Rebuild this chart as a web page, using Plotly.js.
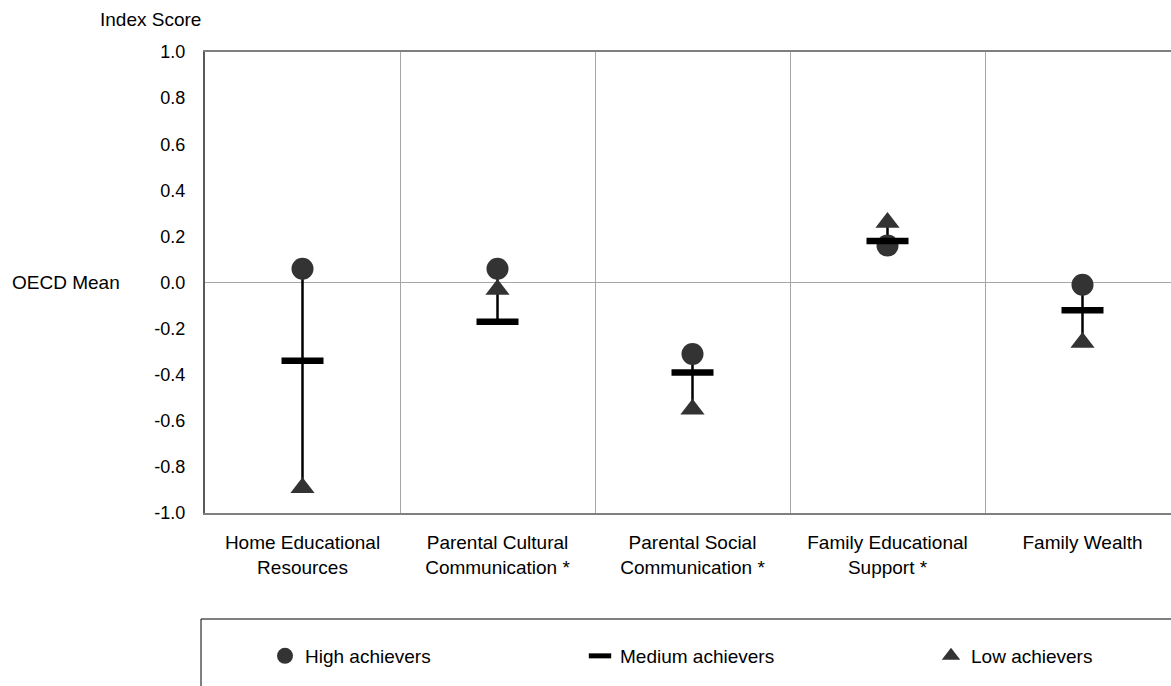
<!DOCTYPE html>
<html>
<head>
<meta charset="utf-8">
<script src="https://cdn.plot.ly/plotly-3.0.1.min.js"></script>
<style>
  html, body { margin: 0; padding: 0; background: #ffffff; overflow: hidden; }
  #chart { width: 1171px; height: 686px; }
</style>
</head>
<body>
<div id="chart"></div>
<script>
// ---- Data ----
var categories = [
  "Home Educational<br>Resources",
  "Parental Cultural<br>Communication *",
  "Parental Social<br>Communication *",
  "Family Educational<br>Support *",
  "Family Wealth"
];
var highAchievers   = [0.06, 0.06, -0.31, 0.16, -0.01];
var mediumAchievers = [-0.34, -0.17, -0.39, 0.18, -0.12];
var lowAchievers    = [-0.89, -0.03, -0.55, 0.26, -0.26];
var yTickValues = [-1.0, -0.8, -0.6, -0.4, -0.2, 0.0, 0.2, 0.4, 0.6, 0.8, 1.0];
var yTickLabels = ["-1.0", "-0.8", "-0.6", "-0.4", "-0.2", "0.0", "0.2", "0.4", "0.6", "0.8", "1.0"];
var seriesNames = ["High achievers", "Medium achievers", "Low achievers"];

// ---- Derived ----
var xIdx = categories.map(function (_, i) { return i; });
var upper = [], lower = [];
for (var i = 0; i < categories.length; i++) {
  var mx = Math.max(highAchievers[i], mediumAchievers[i], lowAchievers[i]);
  var mn = Math.min(highAchievers[i], mediumAchievers[i], lowAchievers[i]);
  upper.push(mx - mediumAchievers[i]);
  lower.push(mediumAchievers[i] - mn);
}

var FONT = "Liberation Sans, Arial, sans-serif";
var W = 1171, H = 686;
var mL = 205, mR = 0, mT = 52, mB = 173;
var plotW = W - mL - mR, plotH = H - mT - mB;
function px2x(px) { return (px - mL) / plotW; }
function py2y(py) { return (H - mB - py) / plotH; }

var rangeTrace = {
  x: xIdx, y: mediumAchievers, type: "scatter", mode: "markers",
  marker: { size: 1, opacity: 0 },
  error_y: { type: "data", symmetric: false, array: upper, arrayminus: lower,
             width: 0, thickness: 2.5, color: "#000000" },
  showlegend: false, hoverinfo: "skip"
};
var highTrace = {
  x: xIdx, y: highAchievers, type: "scatter", mode: "markers", name: seriesNames[0],
  marker: { symbol: "circle", size: 22, color: "#333333", opacity: 1 },
  legend: "legend"
};
var lowTrace = {
  x: xIdx, y: lowAchievers, type: "scatter", mode: "markers", name: seriesNames[2],
  marker: { symbol: "triangle-up", size: 21, color: "#333333", opacity: 1 },
  legend: "legend3"
};
var medTrace = {
  x: xIdx, y: mediumAchievers, type: "scatter", mode: "markers", name: seriesNames[1],
  marker: { symbol: "line-ew", size: 30, color: "#000000", opacity: 1,
            line: { color: "#000000", width: 6.5 } },
  legend: "legend2"
};

function legendAt(pxText) {
  return {
    x: px2x(pxText - 40), xanchor: "left",
    y: py2y(656), yanchor: "middle",
    orientation: "h", bgcolor: "rgba(0,0,0,0)", borderwidth: 0,
    itemsizing: "trace",
    font: { family: FONT, size: 19, color: "#000000" }
  };
}

var layout = {
  width: W, height: H,
  margin: { l: mL, r: mR, t: mT, b: mB, pad: 0 },
  paper_bgcolor: "#ffffff", plot_bgcolor: "#ffffff",
  font: { family: FONT, size: 19, color: "#000000" },
  showlegend: true,
  xaxis: {
    range: [-0.5, -0.5 + plotW / 195],
    tickmode: "array", tickvals: xIdx, ticktext: categories,
    showgrid: false, zeroline: false,
    showline: true, linecolor: "#7f7f7f", linewidth: 2, mirror: true,
    ticks: "", ticklabelstandoff: 11,
    tickfont: { family: FONT, size: 19, color: "#000000" },
    minor: { tickmode: "array", tickvals: [0.5, 1.5, 2.5, 3.5], showgrid: true,
             gridcolor: "#a6a6a6", gridwidth: 1, ticks: "" },
    fixedrange: true
  },
  yaxis: {
    range: [-1, 1],
    tickmode: "array", tickvals: yTickValues, ticktext: yTickLabels,
    showgrid: false,
    zeroline: true, zerolinecolor: "#a6a6a6", zerolinewidth: 1.5,
    showline: true, linecolor: "#595959", linewidth: 2,
    ticks: "", ticklabelstandoff: 14,
    tickfont: { family: FONT, size: 18, color: "#000000" },
    fixedrange: true
  },
  legend: legendAt(305),
  legend2: legendAt(620),
  legend3: legendAt(971),
  shapes: [{
    type: "rect", xref: "paper", yref: "paper",
    x0: px2x(201), x1: px2x(1190), y0: py2y(700), y1: py2y(619),
    line: { color: "#000000", width: 1 }, fillcolor: "rgba(0,0,0,0)", layer: "below"
  }],
  annotations: [
    { text: "Index Score", xref: "paper", yref: "paper", x: px2x(150), y: py2y(20),
      xanchor: "center", yanchor: "middle", showarrow: false,
      font: { family: FONT, size: 19, color: "#000000" } },
    { text: "OECD Mean", xref: "paper", yref: "y", x: px2x(122), y: 0,
      xanchor: "right", yanchor: "middle", showarrow: false,
      font: { family: FONT, size: 19, color: "#000000" } }
  ]
};

Plotly.newPlot("chart", [rangeTrace, highTrace, lowTrace, medTrace], layout,
  { displayModeBar: false, staticPlot: true });
</script>
</body>
</html>
